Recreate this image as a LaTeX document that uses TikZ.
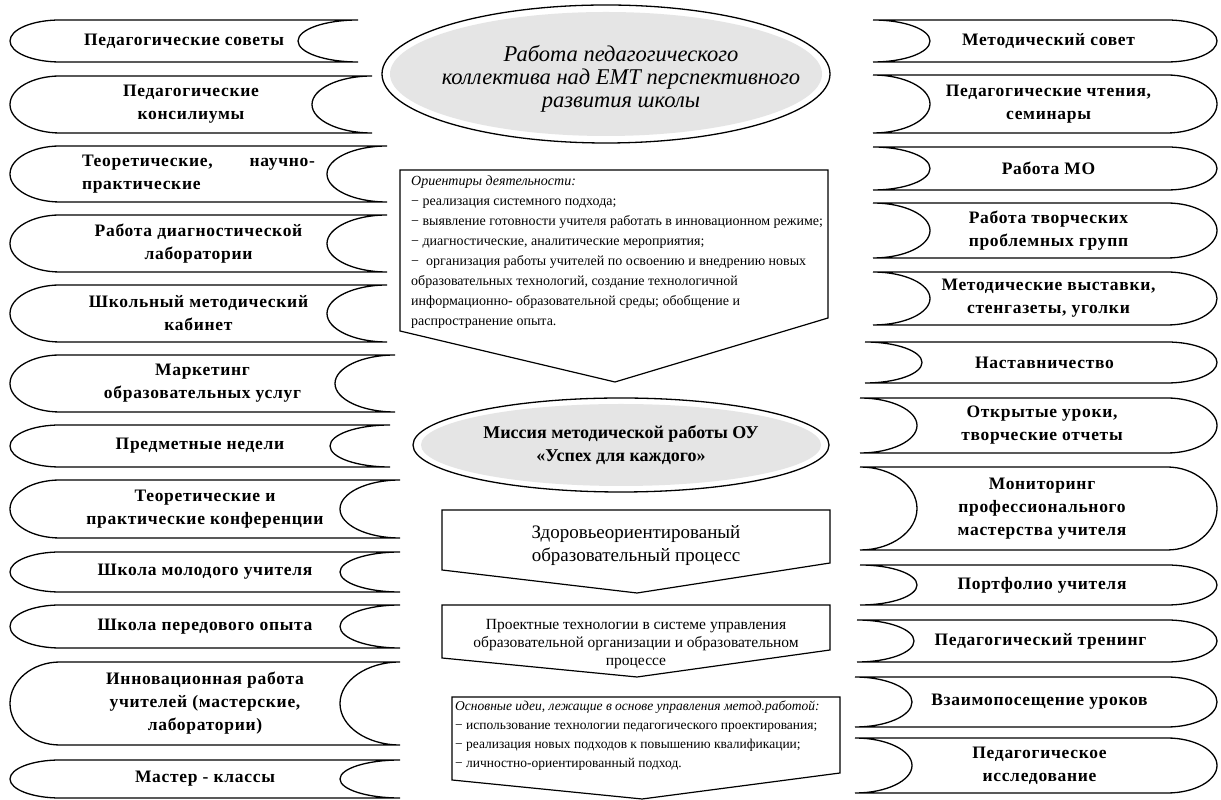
\documentclass[tikz,border=0pt]{standalone}
\usepackage{fontspec}
\setmainfont{Liberation Serif}
\newfontfamily\bandfont[LetterSpace=4.0]{Liberation Serif}
\newfontfamily\titlefont{Liberation Serif Italic}
\tikzset{
  band/.style={line width=1.3pt, fill=white}, % the wavy side ribbons
  bandtext/.style={align=center, inner sep=0pt, font=\bandfont\bfseries\fontsize{17.5}{23}\selectfont},
  pointer/.style={line width=1.2pt, fill=white}, % boxes with a pointed bottom
  ovalline/.style={line width=1.3pt, fill=white},
  ovalcore/.style={fill=gray!20},
}
% ribbon on the left: #1 name, #2 top, #3 bottom (from the top edge), #4 right end, #5 text
\newcommand{\leftband}[5]{%
  \pgfmathsetmacro{\bandT}{800-#2}
  \pgfmathsetmacro{\bandB}{800-#3}
  \pgfmathsetmacro{\bandH}{(#3-#2)/2}
  \draw[band] (60,\bandT) -- (#4,\bandT)
    arc[start angle=90, end angle=270, x radius=60pt, y radius=\bandH pt]
    -- (60,\bandB)
    arc[start angle=270, end angle=90, x radius=50pt, y radius=\bandH pt] -- cycle;
  \node[bandtext] (#1) at ({(10+#4)/2}, {(\bandT+\bandB)/2}) {#5};
}
% ribbon on the right: #4 is the left end
\newcommand{\rightband}[5]{%
  \pgfmathsetmacro{\bandT}{800-#2}
  \pgfmathsetmacro{\bandB}{800-#3}
  \pgfmathsetmacro{\bandH}{(#3-#2)/2}
  \draw[band] (#4,\bandT) -- (1167,\bandT)
    arc[start angle=90, end angle=-90, x radius=50pt, y radius=\bandH pt]
    -- (#4,\bandB)
    arc[start angle=-90, end angle=90, x radius=57pt, y radius=\bandH pt] -- cycle;
  \node[bandtext] (#1) at ({(#4+1224)/2}, {(\bandT+\bandB)/2}) {#5};
}

\begin{document}
\begin{tikzpicture}[x=1pt, y=1pt]
  \useasboundingbox (0,0) rectangle (1221,800);

  % left column
  \leftband{lb1}{20}{62}{358}{Педагогические советы}
  \leftband{lb2}{76}{133}{372}{Педагогические\\консилиумы}
  \leftband{lb3}{146}{202}{387}{\parbox{233pt}{Теоретические,\hfill научно-\\практические}}
  \leftband{lb4}{215}{272}{387}{Работа диагностической\\лаборатории}
  \leftband{lb5}{285}{342}{387}{Школьный методический\\кабинет}
  \leftband{lb6}{355}{412}{395}{Маркетинг\\образовательных услуг}
  \leftband{lb7}{425}{467}{390}{Предметные недели}
  \leftband{lb8}{480}{538}{400}{Теоретические и\\практические конференции}
  \leftband{lb9}{552}{592}{400}{Школа молодого учителя}
  \leftband{lb10}{605}{648}{400}{Школа передового опыта}
  \leftband{lb11}{662}{745}{400}{Инновационная работа\\учителей (мастерские,\\лаборатории)}
  \leftband{lb12}{760}{798}{400}{Мастер - классы}

  % right column
  \rightband{rb1}{20}{62}{873}{Методический совет}
  \rightband{rb2}{75}{133}{873}{Педагогические чтения,\\семинары}
  \rightband{rb3}{147}{190}{873}{Работа МО}
  \rightband{rb4}{203}{258}{873}{Работа творческих\\проблемных групп}
  \rightband{rb5}{272}{325}{873}{Методические выставки,\\стенгазеты, уголки}
  \rightband{rb6}{342}{383}{865}{Наставничество}
  \rightband{rb7}{398}{453}{860}{Открытые уроки,\\творческие отчеты}
  \rightband{rb8}{467}{550}{860}{Мониторинг\\профессионального\\мастерства учителя}
  \rightband{rb9}{565}{605}{860}{Портфолио учителя}
  \rightband{rb10}{620}{662}{857}{Педагогический тренинг}
  \rightband{rb11}{677}{727}{855}{Взаимопосещение уроков}
  \rightband{rb12}{738}{793}{855}{Педагогическое\\исследование}

  % centre column
  \coordinate (workc) at (606,726);
  \draw[ovalline] (workc) ellipse[x radius=224pt, y radius=69pt];
  \fill[ovalcore] (workc) ellipse[x radius=216pt, y radius=62pt];
  \node[align=center, inner sep=0pt, font=\titlefont\fontsize{22.5}{23}\selectfont] (work) at (621,721)
    {Работа педагогического\\коллектива над ЕМТ перспективного\\развития школы};

  \draw[pointer] (400,630) -- (828,630) -- (828,482) -- (615,418) -- (400,469) -- cycle;
  \node[anchor=north west, align=left, inner sep=0pt,
        font=\fontsize{14}{20}\selectfont] (aims) at (411,624)
    {\textit{Ориентиры деятельности:}\\
     − реализация системного подхода;\\
     − выявление готовности учителя работать в инновационном режиме;\\
     − диагностические, аналитические мероприятия;\\
     −\ \ организация работы учителей по освоению и внедрению новых\\
     образовательных технологий, создание технологичной\\
     информационно- образовательной среды; обобщение и\\
     распространение опыта.};

  \coordinate (missionc) at (621,355);
  \draw[ovalline] (missionc) ellipse[x radius=208pt, y radius=47pt];
  \fill[ovalcore] (missionc) ellipse[x radius=200pt, y radius=41pt];
  \node[align=center, inner sep=0pt, font=\bfseries\fontsize{18}{23}\selectfont] (mission) at (621,355)
    {Миссия методической работы ОУ\\«Успех для каждого»};

  \draw[pointer] (442,290) -- (830,290) -- (830,237) -- (637,207) -- (442,230) -- cycle;
  \node[align=center, inner sep=0pt, font=\fontsize{19}{23}\selectfont] (health) at (636,254)
    {Здоровьеориентированый\\образовательный процесс};

  \draw[pointer] (442,195) -- (830,195) -- (830,150) -- (637,123) -- (442,142) -- cycle;
  \node[align=center, inner sep=0pt, font=\fontsize{15.5}{18}\selectfont] (project) at (636,156)
    {Проектные технологии в системе управления\\образовательной организации и образовательном\\процессе};

  \draw[pointer] (452,103) -- (840,103) -- (840,27) -- (642,1) -- (452,20) -- cycle;
  \node[anchor=north west, align=left, inner sep=0pt,
        font=\fontsize{13.5}{19}\selectfont] (ideas) at (455,99)
    {\textit{Основные идеи, лежащие в основе управления метод.работой:}\\
     − использование технологии педагогического проектирования;\\
     − реализация новых подходов к повышению квалификации;\\
     − личностно-ориентированный подход.};
\end{tikzpicture}
\end{document}
